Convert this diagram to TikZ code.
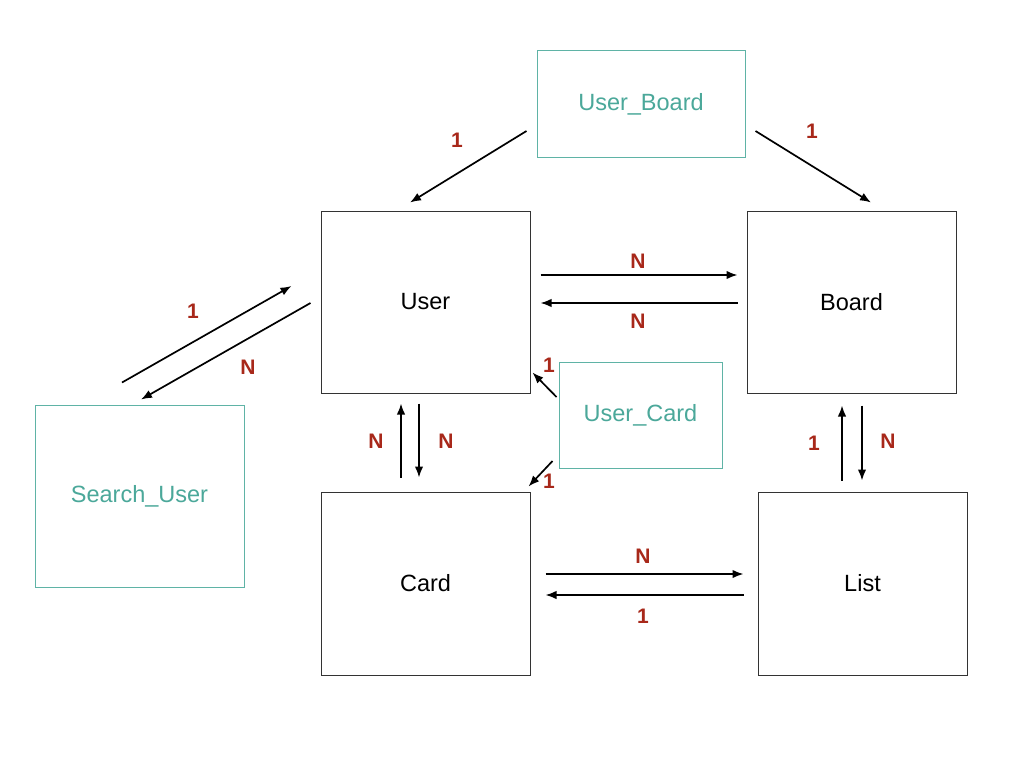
\documentclass[tikz,border=0pt]{standalone}
\usepackage{fontspec}
\setmainfont{Liberation Sans}
\usetikzlibrary{arrows.meta}
\definecolor{teal1}{HTML}{4BA89A}
\definecolor{tealb}{HTML}{5FB3A6}
\definecolor{lab}{HTML}{A8281A}
\definecolor{boxb}{HTML}{333333}
\begin{document}
\begin{tikzpicture}[x=1pt,y=-1pt,
  ent/.style={draw=boxb,line width=1pt,inner sep=0pt,minimum width=209pt,minimum height=182pt,font=\fontsize{23.5}{28}\selectfont},
  rel/.style={draw=tealb,line width=1pt,inner sep=0pt,text=teal1,font=\fontsize{23.5}{28}\selectfont},
  card/.style={text=lab,font=\fontsize{21}{25}\selectfont\bfseries,inner sep=0pt},
  conn/.style={line width=1.7pt,-{Latex[length=11pt,width=8.5pt]}}]
\useasboundingbox (0,0) rectangle (1024,768);
\fill[white] (0,0) rectangle (1024,768);
% nodes
\node[ent] (user) at (425.5,302) {User};
\node[ent] (board) at (851.5,302) {Board};
\node[ent,minimum height=183pt] (card) at (425.5,583.5) {Card};
\node[ent,minimum height=183pt] (list) at (862.5,583.5) {List};
\node[rel,minimum width=209pt,minimum height=182pt] (search) at (139.5,496) {Search\_User};
\node[rel,minimum width=208pt,minimum height=106pt] (ub) at (641,104) {User\_Board};
\node[rel,minimum width=163pt,minimum height=106pt] (uc) at (640.5,415) {User\_Card};
% connectors
\draw[conn] ([shift={(-10,27)}]ub.west) -- ([shift={(-15.5,-8)}]user.north);
\draw[conn] ([shift={(10,27)}]ub.east) -- ([shift={(19.5,-8)}]board.north);
\draw[conn] ([shift={(10,-27)}]user.east) -- ([shift={(-9,-27)}]board.west);
\draw[conn] ([shift={(-9,1)}]board.west) -- ([shift={(10,1)}]user.east);
\draw[conn] ([shift={(-17.5,-22)}]search.north) -- ([shift={(-29,-16)}]user.west);
\draw[conn] ([shift={(-10,1)}]user.west) -- ([shift={(1.5,-5)}]search.north);
\draw[conn] ([shift={(-24.5,-14)}]card.north) -- ([shift={(-24.5,10)}]user.south);
\draw[conn] ([shift={(-6.5,10)}]user.south) -- ([shift={(-6.5,-14)}]card.north);
\draw[conn] ([shift={(-2,-18)}]uc.west) -- ([shift={(2,-21)}]user.south east);
\draw[conn] ([shift={(-6,46)}]uc.west) -- ([shift={(-2,-5)}]card.north east);
\draw[conn] ([shift={(-20.5,-11)}]list.north) -- ([shift={(-9.5,12)}]board.south);
\draw[conn] ([shift={(10.5,12)}]board.south) -- ([shift={(-0.5,-11)}]list.north);
\draw[conn] ([shift={(15,-9.5)}]card.east) -- ([shift={(-14,-9.5)}]list.west);
\draw[conn] ([shift={(-14,11.5)}]list.west) -- ([shift={(15,11.5)}]card.east);
% labels
\node[card] (l1) at (457,140) {1};
\node[card] (l2) at (812,131) {1};
\node[card] (l3) at (638,261) {N};
\node[card] (l4) at (638,321) {N};
\node[card] (l5) at (193,311) {1};
\node[card] (l6) at (248,367) {N};
\node[card] (l7) at (376,441) {N};
\node[card] (l8) at (446,441) {N};
\node[card] (l9) at (549,365) {1};
\node[card] (l10) at (549,481) {1};
\node[card] (l11) at (814,443) {1};
\node[card] (l12) at (888,441) {N};
\node[card] (l13) at (643,556) {N};
\node[card] (l14) at (643,616) {1};
\end{tikzpicture}
\end{document}
